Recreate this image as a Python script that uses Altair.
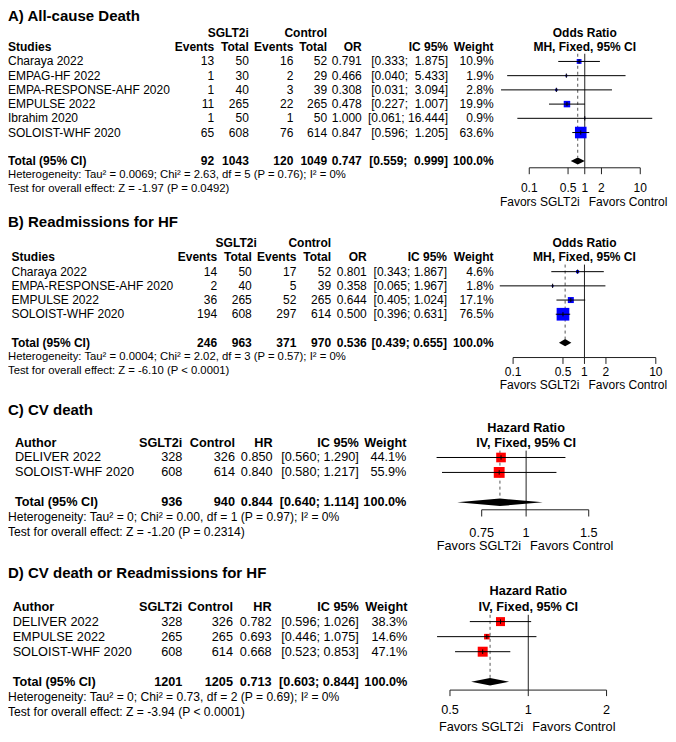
import altair as alt
import pandas as pd

FONT = "Liberation Sans"
NB = "\u00a0"

# ---------------- data ----------------
# A) All-cause death
A_title = "A) All-cause Death"
A_studies = ["Charaya 2022", "EMPAG-HF 2022", "EMPA-RESPONSE-AHF 2020", "EMPULSE 2022", "Ibrahim 2020", "SOLOIST-WHF 2020"]
A_ev_sglt = [13, 1, 1, 11, 1, 65]
A_n_sglt = [50, 30, 40, 265, 50, 608]
A_ev_ctrl = [16, 2, 3, 22, 1, 76]
A_n_ctrl = [52, 29, 39, 265, 50, 614]
A_est = [0.791, 0.466, 0.308, 0.478, 1.000, 0.847]
A_lo = [0.333, 0.040, 0.031, 0.227, 0.061, 0.596]
A_hi = [1.875, 5.433, 3.094, 1.007, 16.444, 1.205]
A_w = [10.9, 1.9, 2.8, 19.9, 0.9, 63.6]
A_tot = [92, 1043, 120, 1049]
A_pool = [0.747, 0.559, 0.999]
A_het = "Heterogeneity: Tau² = 0.0069; Chi² = 2.63, df = 5 (P = 0.76); I² = 0%"
A_test = "Test for overall effect: Z = -1.97 (P = 0.0492)"

# B) Readmissions for HF
B_title = "B) Readmissions for HF"
B_studies = ["Charaya 2022", "EMPA-RESPONSE-AHF 2020", "EMPULSE 2022", "SOLOIST-WHF 2020"]
B_ev_sglt = [14, 2, 36, 194]
B_n_sglt = [50, 40, 265, 608]
B_ev_ctrl = [17, 5, 52, 297]
B_n_ctrl = [52, 39, 265, 614]
B_est = [0.801, 0.358, 0.644, 0.500]
B_lo = [0.343, 0.065, 0.405, 0.396]
B_hi = [1.867, 1.967, 1.024, 0.631]
B_w = [4.6, 1.8, 17.1, 76.5]
B_tot = [246, 963, 371, 970]
B_pool = [0.536, 0.439, 0.655]
B_het = "Heterogeneity: Tau² = 0.0004; Chi² = 2.02, df = 3 (P = 0.57); I² = 0%"
B_test = "Test for overall effect: Z = -6.10 (P < 0.0001)"

# C) CV death
C_title = "C) CV death"
C_studies = ["DELIVER 2022", "SOLOIST-WHF 2020"]
C_n_sglt = [328, 608]
C_n_ctrl = [326, 614]
C_est = [0.850, 0.840]
C_lo = [0.560, 0.580]
C_hi = [1.290, 1.217]
C_w = [44.1, 55.9]
C_tot = [936, 940]
C_pool = [0.844, 0.640, 1.114]
C_het = "Heterogeneity: Tau² = 0; Chi² = 0.00, df = 1 (P = 0.97); I² = 0%"
C_test = "Test for overall effect: Z = -1.20 (P = 0.2314)"

# D) CV death or readmissions for HF
D_title = "D) CV death or Readmissions for HF"
D_studies = ["DELIVER 2022", "EMPULSE 2022", "SOLOIST-WHF 2020"]
D_n_sglt = [328, 265, 608]
D_n_ctrl = [326, 265, 614]
D_est = [0.782, 0.693, 0.668]
D_lo = [0.596, 0.446, 0.523]
D_hi = [1.026, 1.075, 0.853]
D_w = [38.3, 14.6, 47.1]
D_tot = [1201, 1205]
D_pool = [0.713, 0.603, 0.844]
D_het = "Heterogeneity: Tau² = 0; Chi² = 0.73, df = 2 (P = 0.69); I² = 0%"
D_test = "Test for overall effect: Z = -3.94 (P < 0.0001)"

TICKS_OR = [0.1, 0.5, 1, 2, 10]
TICKS_C = [0.75, 1, 1.5]
TICKS_D = [0.5, 1, 2]
FAVORS = ["Favors SGLT2i", "Favors Control"]
HEAD_OR = ["Odds Ratio", "MH, Fixed, 95% CI"]
HEAD_HR = ["Hazard Ratio", "IV, Fixed, 95% CI"]
TOTAL_LABEL = "Total (95% CI)"


def ci_strings(lo, hi, pool):
    his = [f"{h:.3f}" for h in list(hi) + [pool[2]]]
    los = [f"{l:.3f}" for l in list(lo) + [pool[1]]]
    wmax = max(len(h) for h in his)
    out = [f"[{l}; " + NB * (wmax - len(h)) + h + "]" for l, h in zip(los, his)]
    return out[:-1], out[-1]


def f3(v):
    return [f"{x:.3f}" for x in v]


def pct(v):
    return [f"{x:.1f}%" for x in v]


def strs(v):
    return [str(x) for x in v]


def or_cols(names, ev1, n1, ev2, n2, est, lo, hi, w, tot, pool):
    ci, ci_t = ci_strings(lo, hi, pool)
    return [
        ("Studies", names, TOTAL_LABEL),
        ("Events", strs(ev1), str(tot[0])),
        ("Total", strs(n1), str(tot[1])),
        ("Events", strs(ev2), str(tot[2])),
        ("Total", strs(n2), str(tot[3])),
        ("OR", f3(est), f"{pool[0]:.3f}"),
        ("IC 95%", ci, ci_t),
        ("Weight", pct(w), "100.0%"),
    ]


def hr_cols(names, n1, n2, est, lo, hi, w, tot, pool):
    ci, ci_t = ci_strings(lo, hi, pool)
    return [
        ("Author", names, TOTAL_LABEL),
        ("SGLT2i", strs(n1), str(tot[0])),
        ("Control", strs(n2), str(tot[1])),
        ("HR", f3(est), f"{pool[0]:.3f}"),
        ("IC 95%", ci, ci_t),
        ("Weight", pct(w), "100.0%"),
    ]


DATA = [
    dict(title=A_title, cols=or_cols(A_studies, A_ev_sglt, A_n_sglt, A_ev_ctrl, A_n_ctrl, A_est, A_lo, A_hi, A_w, A_tot, A_pool),
         est=A_est, lo=A_lo, hi=A_hi, w=A_w, pool=A_pool, het=A_het, test=A_test, ticks=TICKS_OR,
         fhead=HEAD_OR, group=["SGLT2i", "Control"]),
    dict(title=B_title, cols=or_cols(B_studies, B_ev_sglt, B_n_sglt, B_ev_ctrl, B_n_ctrl, B_est, B_lo, B_hi, B_w, B_tot, B_pool),
         est=B_est, lo=B_lo, hi=B_hi, w=B_w, pool=B_pool, het=B_het, test=B_test, ticks=TICKS_OR,
         fhead=HEAD_OR, group=["SGLT2i", "Control"]),
    dict(title=C_title, cols=hr_cols(C_studies, C_n_sglt, C_n_ctrl, C_est, C_lo, C_hi, C_w, C_tot, C_pool),
         est=C_est, lo=C_lo, hi=C_hi, w=C_w, pool=C_pool, het=C_het, test=C_test, ticks=TICKS_C,
         fhead=HEAD_HR, group=[]),
    dict(title=D_title, cols=hr_cols(D_studies, D_n_sglt, D_n_ctrl, D_est, D_lo, D_hi, D_w, D_tot, D_pool),
         est=D_est, lo=D_lo, hi=D_hi, w=D_w, pool=D_pool, het=D_het, test=D_test, ticks=TICKS_D,
         fhead=HEAD_HR, group=[]),
]

# ---------------- layout (reference pixel geometry) ----------------
LAYOUT = [
    dict(ref_top=0, ref_bot=206, H=202, row0=54.5, s=14.5, title_row=-3.21, tot_row=7, het_row=8, test_row=9,
         axis_row=7.48, tick_len=0.45, lab_row=8.93, fav_row=9.92, line_top=-0.54,
         xdom=[0.1, 10], xr=[534, 646], sq="#0000FF", fs=12, hfs=11.3,
         group_x=[251, 330],
         cols=[(8, "left"), (216, "right"), (251, "right"), (296, "right"), (330, "right"),
               (365, "right"), (452, "right"), (498, "right")]),
    dict(ref_top=206, ref_bot=395, H=185, row0=269, s=14.5, title_row=-3.52, tot_row=5, het_row=6, test_row=7,
         axis_row=6.05, tick_len=0.45, lab_row=7.05, fav_row=8.0, line_top=-0.5,
         xdom=[0.1, 10], xr=[517.7, 661.7], sq="#0000FF", fs=12, hfs=11.3,
         group_x=[259, 334],
         cols=[(11.5, "left"), (219, "right"), (254, "right"), (299, "right"), (334, "right"),
               (370, "right"), (451, "right"), (498, "right")]),
    dict(ref_top=395, ref_bot=565, H=166, row0=459, s=15.3, title_row=-3.2, tot_row=3, het_row=4, test_row=5,
         axis_row=3.5, tick_len=0.45, lab_row=5.08, fav_row=5.95, line_top=-0.46,
         xdom=[0.75, 1.5], xr=[486, 594], sq="#FF0000", fs=12.7, hfs=12.1,
         group_x=[],
         cols=[(15, "left"), (184, "right"), (237, "right"), (275, "right"), (362, "right"), (410, "right")]),
    dict(ref_top=565, ref_bot=742, H=173, row0=627, s=15.4, title_row=-3.25, tot_row=4, het_row=5, test_row=6,
         axis_row=4.55, tick_len=0.4, lab_row=5.9, fav_row=7.0, line_top=-0.45,
         xdom=[0.5, 2], xr=[454, 612], sq="#FF0000", fs=12.7, hfs=12.1,
         group_x=[],
         cols=[(12.7, "left"), (184, "right"), (235, "right"), (274, "right"), (362, "right"), (411, "right")]),
]

W = 660
KX = W / (674 - 8)
SQ = 12.7
DIA_H = 0.25
TICK_H = 0.15


def px(ref_x):
    return max((ref_x - 8) * KX, 0)


def build_panel(L, D):
    s, r0 = L["s"], L["row0"]
    top = (L["ref_top"] - r0) / s
    bot = (L["ref_bot"] - r0) / s
    ys = alt.Scale(domain=[top, bot], range=[0, L["H"]], nice=False, zero=False)
    xs = alt.Scale(type="log", domain=L["xdom"], range=[px(L["xr"][0]), px(L["xr"][1])], nice=False)

    def Y(f):
        return alt.Y(f"{f}:Q", scale=ys, axis=None)

    def X(f):
        return alt.X(f"{f}:Q", scale=xs, axis=None)

    fs = L["fs"]
    layers = []

    def txt(rows, texts, x, align, bold=False, size=None):
        df = pd.DataFrame({"row": rows, "t": texts})
        layers.append(
            alt.Chart(df).mark_text(align=align, baseline="middle", font=FONT, fontSize=size or fs,
                                    fontWeight="bold" if bold else "normal", color="black")
            .encode(x=alt.value(x), y=Y("row"), text="t:N"))

    n = len(D["est"])
    rows = list(range(n))
    tr = L["tot_row"]

    txt([L["title_row"]], [D["title"]], 0, "left", True, 15)
    for g, gx in zip(D["group"], L["group_x"]):
        txt([-2], [g], px(gx), "right", True)
    for (head, vals, tot), (x, align) in zip(D["cols"], L["cols"]):
        txt(rows, vals, px(x), align)
        txt([-1, tr], [head, tot], px(x), align, True)
    txt([L["het_row"], L["test_row"]], [D["het"], D["test"]], 0, "left", False, L["hfs"])

    # forest plot
    est, lo, hi = D["pool"]
    fd = pd.DataFrame({"est": D["est"], "lo": D["lo"], "hi": D["hi"], "w": D["w"], "row": rows})
    fd["r1"] = fd["row"] - TICK_H
    fd["r2"] = fd["row"] + TICK_H
    ar = L["axis_row"]

    hd = pd.DataFrame({"x": [1.0, 1.0], "row": [-2, -1], "t": D["fhead"]})
    layers.append(alt.Chart(hd).mark_text(align="center", baseline="middle", font=FONT, fontSize=fs,
                                          fontWeight="bold", color="black")
                  .encode(x=X("x"), y=Y("row"), text="t:N"))
    layers.append(alt.Chart(pd.DataFrame({"x": [1.0], "a": [L["line_top"]], "b": [ar]}))
                  .mark_rule(color="#222222", strokeWidth=1).encode(x=X("x"), y=Y("a"), y2="b:Q"))
    layers.append(alt.Chart(pd.DataFrame({"x": [est], "a": [L["line_top"]], "b": [tr - DIA_H]}))
                  .mark_rule(color="#555555", strokeWidth=1, strokeDash=[3, 3])
                  .encode(x=X("x"), y=Y("a"), y2="b:Q"))
    layers.append(alt.Chart(fd).mark_square(filled=True, color=L["sq"], opacity=1)
                  .encode(x=X("est"), y=Y("row"),
                          size=alt.Size("w:Q", scale=alt.Scale(domain=[0, max(D["w"])], range=[0, SQ * SQ]),
                                        legend=None)))
    layers.append(alt.Chart(fd).mark_rule(color="black", strokeWidth=1)
                  .encode(x=X("lo"), x2="hi:Q", y=Y("row")))
    layers.append(alt.Chart(fd).mark_rule(color="black", strokeWidth=1)
                  .encode(x=X("est"), y=Y("r1"), y2="r2:Q"))
    dd = pd.DataFrame({"x": [lo, est, hi], "a": [tr, tr - DIA_H, tr], "b": [tr, tr + DIA_H, tr]})
    layers.append(alt.Chart(dd).mark_area(color="black", orient="vertical", opacity=1)
                  .encode(x=X("x"), y=Y("a"), y2="b:Q"))
    ticks = D["ticks"]
    layers.append(alt.Chart(pd.DataFrame({"x": [ticks[0]], "x2": [ticks[-1]], "y": [ar]}))
                  .mark_rule(color="#222222").encode(x=X("x"), x2="x2:Q", y=Y("y")))
    tk = pd.DataFrame({"x": ticks, "a": [ar] * len(ticks), "b": [ar + L["tick_len"]] * len(ticks),
                       "lab": [f"{t:g}" for t in ticks], "lr": [L["lab_row"]] * len(ticks)})
    layers.append(alt.Chart(tk).mark_rule(color="#222222").encode(x=X("x"), y=Y("a"), y2="b:Q"))
    layers.append(alt.Chart(tk).mark_text(font=FONT, fontSize=fs, align="center", baseline="middle", color="black")
                  .encode(x=X("x"), y=Y("lr"), text="lab:N"))
    fv = pd.DataFrame({"x": [1.0], "row": [L["fav_row"]]})
    layers.append(alt.Chart(fv).mark_text(font=FONT, fontSize=fs, align="right", baseline="middle",
                                          color="black", dx=-5)
                  .encode(x=X("x"), y=Y("row"), text=alt.value(FAVORS[0])))
    layers.append(alt.Chart(fv).mark_text(font=FONT, fontSize=fs, align="left", baseline="middle",
                                          color="black", dx=4)
                  .encode(x=X("x"), y=Y("row"), text=alt.value(FAVORS[1])))

    return alt.layer(*layers).properties(width=W, height=L["H"])


panels = [build_panel(L, D) for L, D in zip(LAYOUT, DATA)]

chart = (alt.vconcat(*panels, spacing=0, bounds="flush")
         .properties(padding=0)
         .configure_view(stroke=None))

chart.save("out.html", embed_options={"renderer": "svg", "actions": False})
